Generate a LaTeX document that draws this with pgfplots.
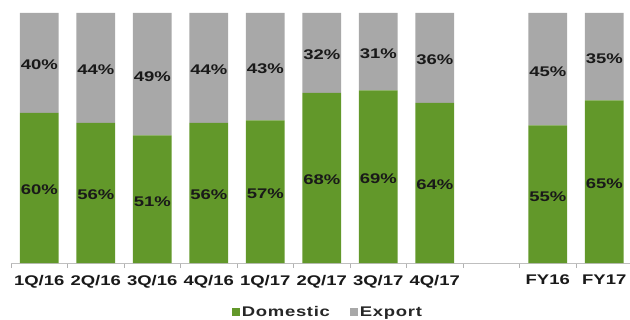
\documentclass[border=0pt]{standalone}
\usepackage{fontspec}
\setmainfont{Liberation Sans}[FakeStretch=1.32]
\newfontfamily\legfont{Liberation Sans}[FakeStretch=1.32, LetterSpace=5]
\usepackage{pgfplots}
\pgfplotsset{compat=1.18}
\usepackage{pgfplotstable}
\definecolor{grn}{RGB}{98,152,42}
\definecolor{gry}{RGB}{168,168,168}
\pgfplotstableread{
x dom exp
0 60 40
1 56 44
2 51 49
3 56 44
4 57 43
5 68 32
6 69 31
7 64 36
9 55 45
10 65 35
}\data
\begin{document}
\begin{tikzpicture}
\begin{axis}[
  scale only axis, width=619bp, height=250bp, at={(0,0)}, anchor=south west,
  xmin=-0.5, xmax=10.456, ymin=0, ymax=100,
  ybar stacked, bar width=0.69,
  /pgf/number format/assume math mode=true,
  axis x line=bottom, axis y line=none, axis line style={-},
  x axis line style={draw=black!25, line width=0.8bp},
  xtick={0,...,10},
  xticklabels={1Q/16,2Q/16,3Q/16,4Q/16,1Q/17,2Q/17,3Q/17,4Q/17,,FY16,FY17},
  ytick=\empty,
  major tick length=0pt,
  minor xtick={-0.5,0.5,...,9.5},
  minor tick length=5bp, tick align=outside,
  minor tick style={draw=black!30, line width=0.8bp},
  xticklabel style={font=\fontsize{14bp}{16bp}\selectfont\bfseries, text=black!90, inner sep=0pt, yshift=-12bp},
  point meta=explicit,
  nodes near coords={\pgfmathprintnumber{\pgfplotspointmeta}\%},
  every node near coord/.append style={font=\fontsize{14bp}{16bp}\selectfont\bfseries, text=black!90, anchor=center, inner sep=0pt, yshift=-2bp},
  legend columns=2,
  legend style={draw=none, at={(0.512,-0.196)}, anchor=center, font=\fontsize{14bp}{16bp}\selectfont\bfseries\legfont, text=black!85, /tikz/every even column/.append style={column sep=18bp}},
  legend image code/.code={\fill[#1] (0bp,-4bp) rectangle (8bp,4bp);},
]
\addplot[fill=grn, draw=none] table[x=x, y=dom, meta=dom]{\data};
\addplot[fill=gry, draw=none] table[x=x, y=exp, meta=exp]{\data};
\legend{Domestic, Export}
\end{axis}
\pgfresetboundingbox
\useasboundingbox (-11bp,-57bp) rectangle (619bp,263bp);
\end{tikzpicture}
\end{document}
